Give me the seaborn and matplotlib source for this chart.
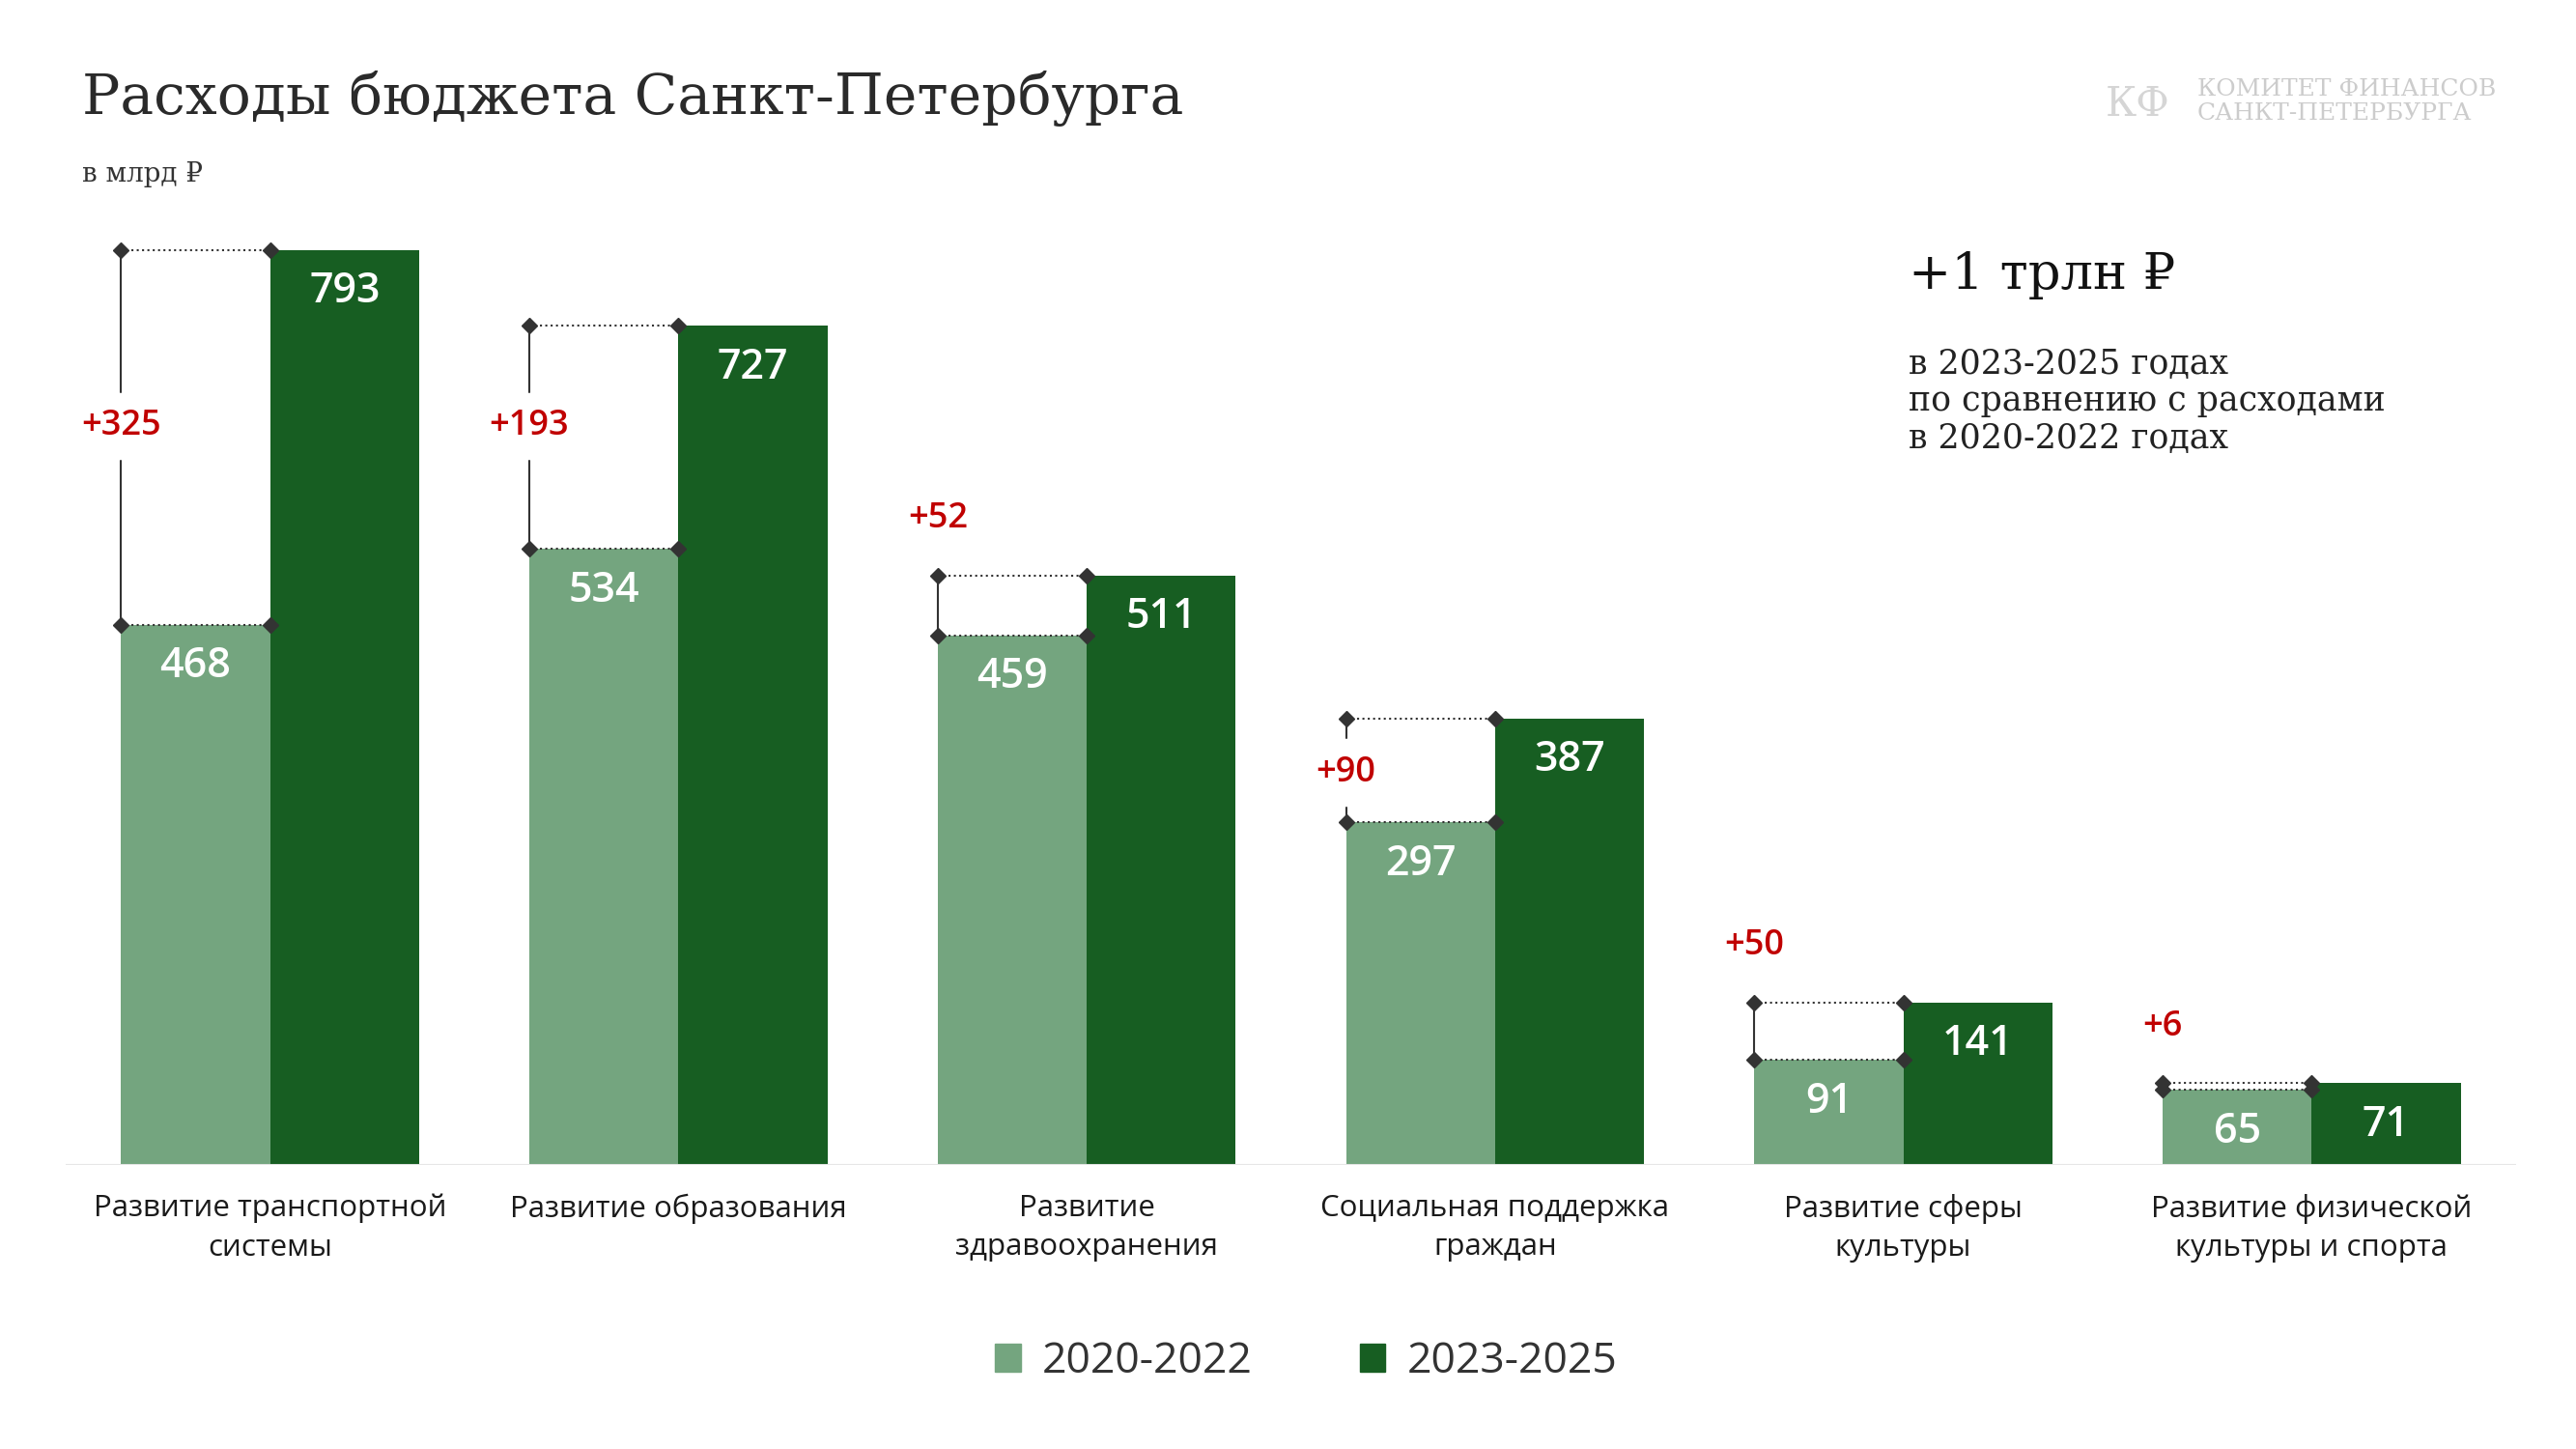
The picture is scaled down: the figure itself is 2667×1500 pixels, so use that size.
import numpy as np
import pandas as pd
import seaborn as sns
from matplotlib import pyplot as plt
from matplotlib.patches import Patch

categories = ["Развитие транспортной\nсистемы", "Развитие образования", "Развитие\nздравоохранения",
              "Социальная поддержка\nграждан", "Развитие сферы\nкультуры", "Развитие физической\nкультуры и спорта"]
periods = ["2020-2022", "2023-2025"]
vals_old = [468, 534, 459, 297, 91, 65]
vals_new = [793, 727, 511, 387, 141, 71]
deltas = ["+325", "+193", "+52", "+90", "+50", "+6"]
delta_label_y = [640, 640, 560, 340, 190, 120]

c_light, c_dark, c_red = "#74A57F", "#175E22", "#C00000"

df = pd.DataFrame({
    "cat": categories * 2,
    "period": [periods[0]] * 6 + [periods[1]] * 6,
    "val": vals_old + vals_new,
})

sns.set_style("white")
plt.rcParams['font.family'] = ['Open Sans', 'DejaVu Sans']

fig = plt.figure(figsize=(26.67, 15), dpi=100)
ax = fig.add_axes([0.0256, 0.196, 0.951, 0.677])
sns.barplot(data=df, x="cat", y="val", hue="period", palette=[c_light, c_dark],
            width=0.73, ax=ax, legend=False, saturation=1, linewidth=0)
ax.set_xlim(-0.5, 5.5)
ax.set_ylim(0, 850)
ax.set_xlabel("")
ax.set_ylabel("")
ax.set_yticks([])
ax.set_xticks([])
for s in ax.spines.values():
    s.set_visible(False)
ax.axhline(0, color="#e6e6e6", lw=1.5)

bw = 0.365
for i, (a, b) in enumerate(zip(vals_old, vals_new)):
    ax.text(i - bw / 2, a - 18, str(a), color="white", ha="center", va="top", fontsize=31, fontweight="semibold")
    ax.text(i + bw / 2, b - 18, str(b), color="white", ha="center", va="top", fontsize=31, fontweight="semibold")
    ax.text(i, -25, categories[i], ha="center", va="top", fontsize=22.5, color="#1a1a1a",
            linespacing=1.45, fontweight="medium")
    xl = i - bw
    for y in (a, b):
        ax.plot([xl, i], [y, y], ls=":", color="#333333", lw=1.5)
        ax.plot([xl, i], [y, y], ls="none", marker="D", ms=8, color="#333333")
    ly = delta_label_y[i]
    ax.text(xl, ly, deltas[i], color=c_red, ha="center", va="center", fontsize=26, fontweight="semibold")
    if a < ly < b:
        gap = 30
        ax.plot([xl, xl], [a, max(a, ly - gap)], color="#333333", lw=1.5)
        ax.plot([xl, xl], [min(b, ly + gap), b], color="#333333", lw=1.5)
    else:
        ax.plot([xl, xl], [a, b], color="#333333", lw=1.5)

# title, subtitle, note
fig.text(0.032, 0.932, "Расходы бюджета Санкт-Петербурга", fontsize=42, family="DejaVu Serif",
         color="#2a2a2a", va="center")
fig.text(0.032, 0.88, "в млрд ₽", fontsize=20, family="DejaVu Serif", color="#333333", va="center")
fig.text(0.741, 0.81, "+1 трлн ₽", fontsize=38, family="DejaVu Serif",
         color="#111111", va="center")
fig.text(0.741, 0.723, "в 2023-2025 годах\nпо сравнению с расходами\nв 2020-2022 годах",
         fontsize=25, family="DejaVu Serif", color="#222222", va="center", linespacing=1.15)
fig.text(0.853, 0.93, "КОМИТЕТ ФИНАНСОВ\nСАНКТ-ПЕТЕРБУРГА", fontsize=18, family="DejaVu Serif",
         color="#cccccc", va="center", linespacing=1.1)
fig.text(0.83, 0.928, "КФ", fontsize=30, family="DejaVu Serif", color="#d5d5d5", va="center", ha="center")

# legend
handles = [Patch(color=c_light, label=periods[0]), Patch(color=c_dark, label=periods[1])]
fig.legend(handles=handles, loc="center", bbox_to_anchor=(0.507, 0.06), ncol=2, frameon=False,
           handlelength=0.6, handleheight=0.6, columnspacing=2.5, handletextpad=0.5,
           labelcolor="#333333", prop={"weight": "medium", "size": 32})

fig.savefig("out.png", dpi=100)
